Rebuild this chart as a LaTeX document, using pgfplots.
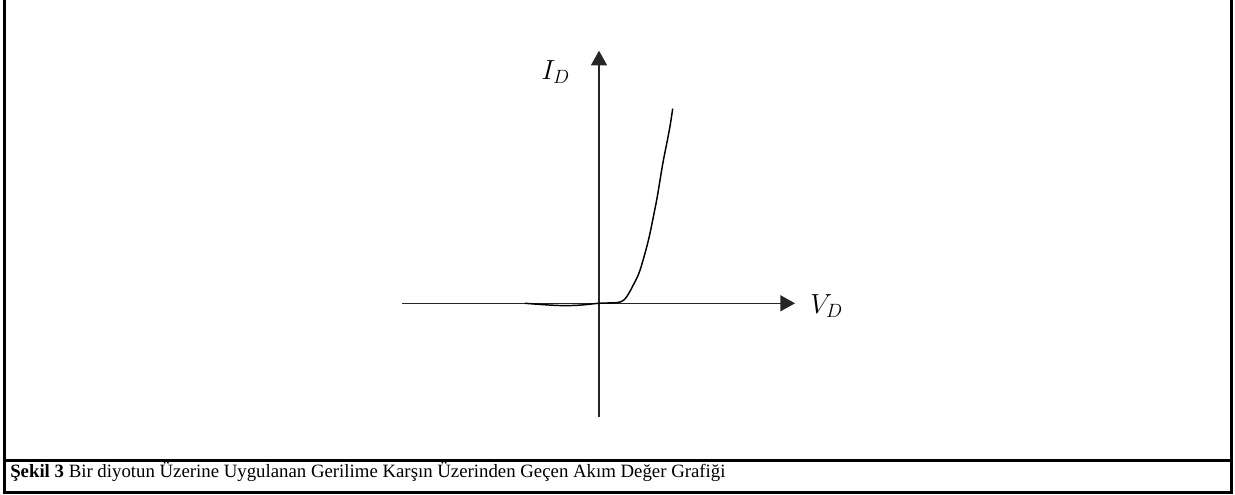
\documentclass[border=0pt]{standalone}
\usepackage{fontspec}
\setmainfont{Liberation Serif}
\usepackage{pgfplots}
\pgfplotsset{compat=1.18}
\usetikzlibrary{arrows.meta}

% Forward/reverse characteristic of a diode, in drawing units (origin of the axes at 0,0)
\pgfplotstableread{
v      i
-74    0
-62   -0.9
-50   -1.7
-40   -2.2
-32   -2.3
-22   -2.0
-12   -1.2
-5    -0.4
0      0
8      0.3
15     0.5
19     0.8
22     1.6
25     3.4
27.7   6.6
31     12
34.3   18.3
38     25.5
41     33
44     43
47.7   56.3
51     70
54.3   86.3
58     105
61     123
64     141
67.7   159.7
71     177
73.7   194.7
}\diodecurve

\begin{document}
\begin{tikzpicture}[x=0.75pt,y=0.75pt]
  \useasboundingbox (0,0) rectangle (1235,494);
  % table cell frame
  \begin{scope}
    \clip (0,0) rectangle (1235,494);
    \draw[line width=2pt] (4.7,500) -- (4.7,1.2) -- (1231.3,1.2) -- (1231.3,500);
    \draw[line width=2pt] (4.7,33.5) -- (1231.3,33.5);
  \end{scope}
  \node[anchor=base west,inner sep=0pt,font=\fontsize{14.1}{17}\selectfont] at (10,16.2)
    {\textbf{Şekil 3} Bir diyotun Üzerine Uygulanan Gerilime Karşın Üzerinden Geçen Akım Değer Grafiği};

  \begin{axis}[
      at={(402,77.3)}, anchor=south west,
      x=0.75pt, y=0.75pt,
      xmin=-197, xmax=196,
      ymin=-113.4, ymax=252.6,
      axis lines=middle,
      axis line style={line width=1.1pt, black!85, -{Triangle[length=11pt,width=12pt]}},
      xtick=\empty, ytick=\empty,
      clip=false,
    ]
    \addplot[line width=1.1pt, black, smooth, tension=0.5] table[x=v,y=i] {\diodecurve};
    \node[anchor=base west, inner sep=0pt, font=\fontsize{22}{26}\selectfont] at (axis cs:-58,224) {$I_D$};
    \node[anchor=base west, inner sep=0pt, font=\fontsize{22}{26}\selectfont] at (axis cs:211,-10) {$V_D$};
  \end{axis}
\end{tikzpicture}
\end{document}
